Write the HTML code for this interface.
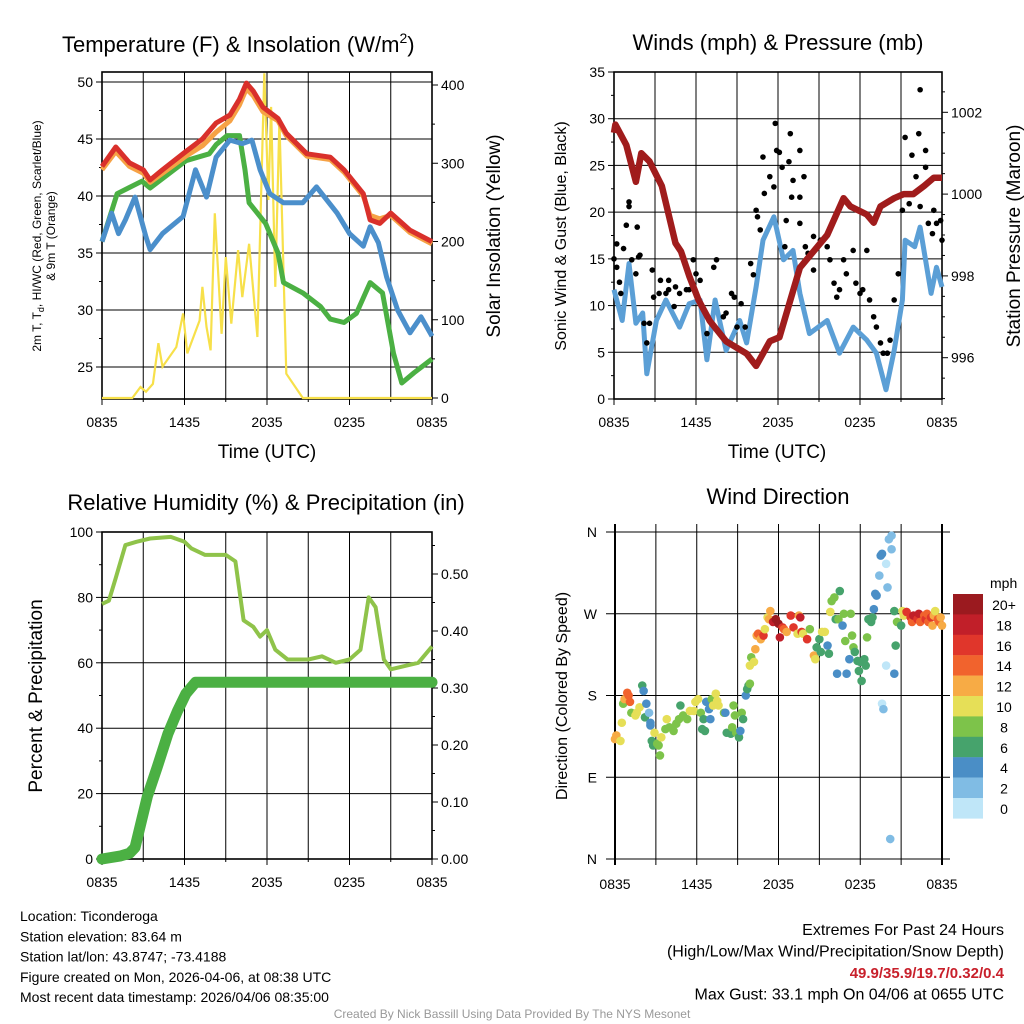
<!DOCTYPE html>
<html><head><meta charset="utf-8"><style>
body{margin:0;background:#fff;}
svg{display:block;font-family:"Liberation Sans",Arial,sans-serif;}
</style></head><body>
<svg id="c" width="1024" height="1024" viewBox="0 0 1024 1024"></svg>
<script>
const xTickLabels=["0835","1435","2035","0235","0835"];
const redHours=[0,1,2,3,3.5,4.4,6.1,7.3,8.3,9.3,10,10.5,11,11.7,12.8,13.4,14.9,16.6,17.6,19,19.5,20.2,21,22.4,24];
const tempRed=[42.6,44.3,42.9,42.3,41.4,42.3,43.9,45,46.4,47.1,48.5,49.9,49.2,47.8,46.8,45.5,43.7,43.4,42.3,40.2,37.9,37.6,38.5,37,36];
const tempOrange=[42.3,43.9,42.6,42,41.2,42,43.5,44.4,45.6,46.6,48,49.4,48.8,47.4,46.6,45.3,43.5,43.2,42.1,40,38.3,38,38.3,36.8,35.8];
const greenHours=[0,1.1,2.9,3.5,6.1,7.8,8.3,9.1,10,10.4,10.7,11.9,12.8,13.2,14.6,15.9,16.6,17.6,18.5,19.5,20.4,21.2,21.8,22.7,24];
const tempGreen=[36,40.2,41.3,40.7,43.1,43.7,44.5,45.3,45.3,42.3,39.4,37.6,35,32.4,31.5,30.3,29.2,28.9,29.7,32.4,31.5,26.2,23.6,24.5,25.7];
const blueHours=[0,0.7,1.2,1.7,2.4,3.2,3.5,4.4,5.9,6.8,7.6,8.3,9.3,10.2,10.9,11.5,12.2,13.2,14.6,15.6,17.1,18,19,19.5,20.1,20.7,21.5,22.4,23.2,24];
const tempBlue=[36,38.5,36.7,37.9,39.9,36.4,35.3,36.7,38.2,42.3,39.9,43.4,44.9,44.6,44.9,42.3,40.2,39.4,39.4,40.8,38.5,36.7,35.6,37.3,35.9,32.9,30,28,29.4,27.7];
const solarHours=[0,2.2,2.8,3.2,3.7,4.1,4.4,5.4,5.9,6.2,7.1,7.3,7.6,7.9,8.2,8.7,9,9.4,9.9,10.2,10.7,11.3,11.8,12.1,12.3,12.6,12.9,13.4,14.6,24];
const solar=[0,0,14,8,18,70,40,65,108,57,99,142,91,61,236,82,180,95,189,129,197,78,415,253,372,142,355,31,0,0];
const windHours=[0,0.6,1.1,1.6,2.1,2.4,3.1,3.8,4.8,5.5,6.3,6.8,7.4,8.2,9.2,9.7,10.4,10.9,11.7,12.4,13.1,13.6,14.3,15.6,16.5,17.5,18.5,19.2,19.9,20.5,21.1,21.3,22,22.4,23.2,23.6,24];
const windBlue=[11.7,8.4,14.5,8.1,9.2,2.7,8.4,10.6,7.7,10.2,10.6,4.2,10.6,5.2,8.4,6,12,17,19.5,14.9,15.9,11.3,7,8.4,4.9,7.7,6.3,4.9,1,5.2,10.6,17,16.3,18.4,11.3,14.1,12];
const presHours=[0,0.1,0.9,1.6,2,2.6,3.5,4.5,4.9,5.5,6.2,7,8.2,9.7,10.4,11.4,12.1,13.6,14.6,15.6,16.8,17.3,18.5,19,19.5,20.5,21.2,21.9,22.7,23.4,24];
const pressure=[1001.5,1001.7,1001.2,1000.3,1001,1000.8,1000.2,998.8,998.6,998,997.4,996.9,996.4,996.1,995.8,996.4,996.5,998.2,998.6,999,999.9,999.7,999.5,999.3,999.7,999.9,1000,1000,1000.2,1000.4,1000.4];
const gustHours=[0,0.2,0.2,0.4,0.5,0.7,0.9,1.1,1.1,1.3,1.7,1.6,1.8,1.9,2.2,2.6,2.4,2.8,2.9,3.3,3.4,3.8,4,4,4.4,4.5,4.8,5.3,5.5,5.8,6,6.3,6.8,7.3,7.5,8,8.2,8.6,8.8,9,9.3,9.6,10,10.2,10.4,10.5,10.7,10.9,11,11.4,11.7,11.8,11.9,12.1,12.3,12.5,12.6,12.8,12.9,13,13.1,13.6,13.6,13.9,13.6,14,14.2,14.6,14.6,15.1,15.6,15.8,16.1,16.3,16.5,16.8,17,17.5,17.7,18,18.2,18.5,18.7,19,19.2,19.5,19.7,20,20.2,20.5,20.8,21.1,21.3,21.6,21.8,22.1,22.3,22.4,22.4,22.8,22.8,23,23.3,23.4,23.6,23.9,24];
const gust=[15,14.1,16.6,12.5,11.3,16.1,18.6,21.1,20.6,14.9,18.4,13.4,15.2,15.4,8.1,8.1,6,13.8,10.9,11.3,12.7,11.3,11.7,12.7,9.9,12,11.3,11.7,11.7,14.9,13.4,12.7,7,14.1,14.9,8.8,9.2,11.3,10.9,7.7,10.2,7.7,14.5,13.3,20.2,19.5,18.1,25.9,22,23.8,22.7,29.5,26.6,26.4,24.8,16.3,19.1,25.4,28.4,21.6,23.4,26.6,21.6,23.8,18.8,16.3,15.6,17.4,13.8,17,16.3,14.9,12.4,10.9,11.7,14.9,13.4,15.9,12.4,11.3,11.7,15.9,10.6,8.8,7.7,6,4.9,4.9,6.3,10.6,13.4,20.2,28,20.9,26.1,23.8,28.4,33.1,20.6,26.6,24.8,18.8,17.7,20.2,18.8,19.1,17];
const rhHours=[0,0.5,1,1.7,2.5,3.5,5,6,6.5,7.5,9,9.7,10.3,11,11.5,12,12.6,13.5,15,16,17,18,18.8,19.4,19.9,20.5,21,22,23,24];
const rh=[78,79,86,96,97,98,98.5,97,95,93,93,91,73,71,68,70,64,61,61,62,60,61,64,80,77,61,58,59,60,65];
const precipHours=[0,1.3,2,2.4,2.8,3.3,4,4.8,5.5,6.1,6.8,24];
const precip=[0,0.005,0.01,0.02,0.06,0.11,0.16,0.22,0.26,0.29,0.31,0.31];
const dirHours=[0,0.1,0.4,0.5,0.6,0.7,0.9,1.0,1.1,1.2,1.5,1.6,1.8,2.0,2.1,2.2,2.3,2.5,2.6,2.6,2.7,2.8,2.9,3.1,3.2,3.3,3.4,3.7,3.8,4.0,4.3,4.5,4.7,4.8,5.0,5.3,5.5,5.8,5.9,6.1,6.3,6.4,6.5,6.6,6.7,6.9,7.0,7.1,7.2,7.4,7.5,7.6,8.0,8.1,8.2,8.5,8.6,8.7,8.8,8.9,9.1,9.2,9.3,9.4,9.6,9.7,9.8,9.9,9.9,10.0,10.2,10.3,10.4,10.5,10.7,10.9,11.0,11.2,11.3,11.4,11.6,11.8,12.0,12.1,12.3,12.4,12.6,12.9,13.1,13.4,13.5,13.6,13.7,13.8,14.1,14.3,14.6,14.7,14.8,15.0,15.1,15.2,15.4,15.6,15.7,15.8,15.9,16.1,16.2,16.3,16.4,16.5,16.7,16.8,16.9,17.0,17.2,17.3,17.4,17.5,17.6,17.8,17.9,18.0,18.1,18.3,18.4,18.5,18.6,18.8,18.9,19.0,19.1,19.2,19.4,19.5,19.6,19.9,20.0,20.1,20.3,20.3,19.6,19.7,19.9,20.2,20.5,20.5,20.6,20.7,21.0,21.1,21.2,21.4,21.7,21.8,21.9,22.2,22.3,22.4,22.7,22.8,22.9,23.0,23.2,23.3,23.4,23.5,23.7,23.8,23.9,24.0];
const dirs=[132,136,130,150,171,176,183,180,173,161,158,161,167,191,185,156,171,161,150,147,130,125,139,127,125,114,134,143,154,145,141,149,154,169,158,154,163,163,173,176,161,143,154,141,173,165,154,176,169,182,174,169,161,161,139,138,145,169,158,139,134,141,161,154,180,187,191,193,213,222,217,231,246,248,242,246,253,266,264,273,261,264,259,244,255,253,250,268,255,248,268,266,250,248,242,253,224,220,233,242,228,250,250,235,226,272,284,288,264,204,264,295,257,270,240,204,220,270,246,233,228,218,207,217,196,220,213,244,264,261,266,275,292,290,312,334,336,325,299,352,356,341,171,165,213,22,204,273,235,261,257,273,268,272,266,261,268,264,270,261,268,264,270,261,266,257,268,273,264,261,266,257];
const dirSpeed=[12,12,10,10,8,12,14,14,14,8,10,10,10,6,4,6,4,2,4,4,6,6,10,8,8,8,10,8,10,8,8,8,8,6,8,8,10,10,10,10,8,6,6,6,4,4,4,8,10,10,10,10,8,4,6,6,8,8,8,8,6,4,8,6,4,6,6,8,10,8,10,12,12,14,12,16,10,10,12,12,18,20,20,18,16,14,12,16,16,10,12,18,16,10,16,8,12,10,6,6,6,10,10,4,6,10,8,8,6,4,8,6,4,8,8,4,4,8,8,8,6,6,6,6,6,6,6,8,6,6,6,4,4,4,2,4,4,0,2,2,2,2,0,2,0,2,4,6,6,8,6,10,10,16,16,14,18,16,18,14,14,16,14,14,16,12,12,10,14,14,12,12];
const cbLabels=["20+","18","16","14","12","10","8","6","4","2","0"];
const cbColors=["#9b1a1f","#c11f29","#e0362b","#f1632d","#f7ab45","#e6df57","#7dc34a","#46a36c","#4a8ec6","#80bce4","#bfe6f8"];

const svg=document.getElementById('c');const NS="http://www.w3.org/2000/svg";
function el(t,a,p){const e=document.createElementNS(NS,t);for(const k in a)e.setAttribute(k,a[k]);(p||svg).appendChild(e);return e;}
function txt(s,a,p){const e=el('text',a,p);e.textContent=s;return e;}
function lin(d0,d1,r0,r1){return v=>r0+(v-d0)/(d1-d0)*(r1-r0);}
function path(xs,ys,fx,fy){return xs.map((h,i)=>(i?'L':'M')+fx(h).toFixed(1)+' '+fy(ys[i]).toFixed(1)).join(' ');}

function frame(g,x0,x1,y0,y1,fx){
  for(let h=0;h<=24;h+=3){const x=fx(h);el('line',{x1:x,x2:x,y1:y0,y2:y1+(h%6===0?6:3),stroke:'#000','stroke-width':1},g);}
  xTickLabels.forEach((l,i)=>{const t=txt(l,{x:fx(i*6),y:y1+28,'font-size':14,'text-anchor':'middle'},g);});
  el('rect',{x:x0,y:y0,width:x1-x0,height:y1-y0,fill:'none',stroke:'#000','stroke-width':1.6},g);
}
function yTicks(g,vals,fy,x,side,labelFn,minor){
  vals.forEach(v=>{const y=fy(v);const d=side<0?-6:6;el('line',{x1:x,x2:x+d,y1:y,y2:y,stroke:'#000'},g);
    const t=txt(labelFn(v),{x:x+(side<0?-9:9),y:y+5,'font-size':14,'text-anchor':side<0?'end':'start'},g);
    });
  (minor||[]).forEach(v=>{const y=fy(v);el('line',{x1:x,x2:x+(side<0?-3:3),y1:y,y2:y,stroke:'#000'},g);});
}
function hgrid(g,vals,fy,x0,x1){vals.forEach(v=>el('line',{x1:x0,x2:x1,y1:fy(v),y2:fy(v),stroke:'#000','stroke-width':1},g));}

// Panel 1
{const g=el('g',{});
const X0=102,X1=432,Y0=72,Y1=399;const fx=lin(0,24,X0,X1);const fy=lin(25,50,367,82);const fs=lin(0,400,398,85);
hgrid(g,[25,30,35,40,45,50],fy,X0,X1);
frame(g,X0,X1,Y0,Y1,fx);
yTicks(g,[25,30,35,40,45,50],fy,X0,-1,v=>v,[27.5,32.5,37.5,42.5,47.5]);
yTicks(g,[0,100,200,300,400],fs,X1,1,v=>v,[50,150,250,350]);
const s=el('path',{d:path(solarHours,solar,fx,fs),fill:'none',stroke:'#f7e04a','stroke-width':2.2},g);
[[greenHours,tempGreen,'#4bb043','dewpoint-line'],[blueHours,tempBlue,'#4b8fcb','heat-index-line'],[redHours,tempOrange,'#f6a245','nine-m-temp-line'],[redHours,tempRed,'#d9302b','temperature-line']].forEach(([hh,d,c,n])=>{const p=el('path',{d:path(hh,d,fx,fy),fill:'none',stroke:c,'stroke-width':5,'stroke-linejoin':'round'},g);});
const t=txt('Temperature (F) & Insolation (W/m',{x:62,y:52,'font-size':22},g);const sup=el('tspan',{'font-size':14,dy:-9},t);sup.textContent='2';const cl=el('tspan',{dy:9},t);cl.textContent=')';
const yl=el('text',{transform:'translate(41,236) rotate(-90)','text-anchor':'middle','font-size':12},g);
yl.innerHTML='2m T, T<tspan font-size="9" dy="3">d</tspan><tspan dy="-3">, HI/WC (Red, Green, Scarlet/Blue)</tspan>';
const yl2=txt('& 9m T (Orange)',{transform:'translate(55,236) rotate(-90)','text-anchor':'middle','font-size':12},g);
const yr=txt('Solar Insolation (Yellow)',{transform:'translate(500,236) rotate(-90)','text-anchor':'middle','font-size':19},g);
const xl=txt('Time (UTC)',{x:267,y:458,'font-size':19,'text-anchor':'middle'},g);}

// Panel 2
{const g=el('g',{});
const X0=614,X1=942,Y0=72,Y1=399;const fx=lin(0,24,X0,X1);const fy=lin(0,35,399,72);const fp=lin(996,1002,357.7,112.3);
hgrid(g,[5,10,15,20,25,30],fy,X0,X1);
frame(g,X0,X1,Y0,Y1,fx);
yTicks(g,[0,5,10,15,20,25,30,35],fy,X0,-1,v=>v,[2.5,7.5,12.5,17.5,22.5,27.5,32.5]);
yTicks(g,[996,998,1000,1002],fp,X1,1,v=>v,[995,995.5,996.5,997,997.5,998.5,999,999.5,1000.5,1001,1001.5,1002.5]);
const w=el('path',{d:path(windHours,windBlue,fx,fy),fill:'none',stroke:'#5b9fd6','stroke-width':5,'stroke-linejoin':'round'},g);
gustHours.forEach((h,i)=>{const c=el('circle',{cx:fx(h),cy:fy(gust[i]),r:2.8,fill:'#000'},g);});
const p=el('path',{d:path(presHours,pressure,fx,fp),fill:'none',stroke:'#a01c1c','stroke-width':6.5,'stroke-linejoin':'round'},g);
const t=txt('Winds (mph) & Pressure (mb)',{x:778,y:50,'font-size':22,'text-anchor':'middle'},g);
const yl=txt('Sonic Wind & Gust (Blue, Black)',{transform:'translate(566,236) rotate(-90)','text-anchor':'middle','font-size':16},g);
const yr=txt('Station Pressure (Maroon)',{transform:'translate(1020,236) rotate(-90)','text-anchor':'middle','font-size':19},g);
const xl=txt('Time (UTC)',{x:777,y:458,'font-size':19,'text-anchor':'middle'},g);}

// Panel 3
{const g=el('g',{});
const X0=102,X1=432,Y0=532,Y1=859;const fx=lin(0,24,X0,X1);const fy=lin(0,100,859,532);const fr=lin(0,0.5,859,574);
hgrid(g,[20,40,60,80],fy,X0,X1);
frame(g,X0,X1,Y0,Y1,fx);
yTicks(g,[0,20,40,60,80,100],fy,X0,-1,v=>v,[10,30,50,70,90]);
yTicks(g,[0,0.1,0.2,0.3,0.4,0.5],fr,X1,1,v=>v.toFixed(2),[0.05,0.15,0.25,0.35,0.45,0.55]);
const r=el('path',{d:path(rhHours,rh,fx,fy),fill:'none',stroke:'#8fc34a','stroke-width':4,'stroke-linejoin':'round'},g);
const p=el('path',{d:path(precipHours,precip,fx,fr),fill:'none',stroke:'#4bb043','stroke-width':11,'stroke-linecap':'round','stroke-linejoin':'round'},g);
const t=txt('Relative Humidity (%) & Precipitation (in)',{x:266,y:510,'font-size':22,'text-anchor':'middle'},g);
const yl=txt('Percent & Precipitation',{transform:'translate(42,696) rotate(-90)','text-anchor':'middle','font-size':19},g);}

// Panel 4
{const g=el('g',{});
const Y0=532,Y1=859;const fx=lin(0,24,615,942);const fy=lin(0,360,859,532);
[0,90,180,270,360].forEach(v=>el('line',{x1:606,x2:950,y1:fy(v),y2:fy(v),stroke:'#000'},g));
for(let h=0;h<=24;h+=3){const x=fx(h);el('line',{x1:x,x2:x,y1:Y0-8,y2:Y1+6,stroke:'#000','stroke-width':h%24===0?2:1},g);}
xTickLabels.forEach((l,i)=>{const t=txt(l,{x:fx(i*6),y:Y1+30,'font-size':14,'text-anchor':'middle'},g);});
["N","E","S","W","N"].forEach((l,i)=>{const t=txt(l,{x:597,y:fy(i*90)+5,'font-size':14,'text-anchor':'end'},g);});
function col(s){let i=Math.min(10,Math.max(0,Math.round(s/2)));return cbColors[10-i];}
dirHours.forEach((h,i)=>{const c=el('circle',{cx:fx(h),cy:fy(dirs[i]),r:4.3,fill:col(dirSpeed[i])},g);});
const t=txt('Wind Direction',{x:778,y:504,'font-size':22,'text-anchor':'middle'},g);
const yl=txt('Direction (Colored By Speed)',{transform:'translate(567,696) rotate(-90)','text-anchor':'middle','font-size':16},g);
const lg=el('g',{},g);
const lt=txt('mph',{x:990,y:588,'font-size':14},lg);
cbColors.forEach((c,i)=>{const r=el('rect',{x:953,y:594+i*20.4,width:30,height:20.6,fill:c},lg);
const l=txt(cbLabels[i],{x:1004,y:610+i*20.4,'font-size':14,'text-anchor':'middle'},lg);});}

// Footer text
const left=["Location: Ticonderoga","Station elevation: 83.64 m","Station lat/lon: 43.8747; -73.4188","Figure created on Mon, 2026-04-06, at 08:38 UTC","Most recent data timestamp: 2026/04/06 08:35:00"];
left.forEach((s,i)=>{const t=txt(s,{x:20,y:921+i*20.3,'font-size':14});});
const right=[["Extremes For Past 24 Hours",'#000',''],["(High/Low/Max Wind/Precipitation/Snow Depth)",'#000',''],["49.9/35.9/19.7/0.32/0.4",'#c8202b','bold'],["Max Gust: 33.1 mph On 04/06 at 0655 UTC",'#000','']];
right.forEach((r,i)=>{const t=txt(r[0],{x:1004,y:935+i*21.5,'font-size':r[2]?15:16,'text-anchor':'end',fill:r[1],'font-weight':r[2]||'normal'});});
const cr=txt('Created By Nick Bassill Using Data Provided By The NYS Mesonet',{x:512,y:1018,'font-size':12,'text-anchor':'middle',fill:'#999'});
</script>
</body></html>
